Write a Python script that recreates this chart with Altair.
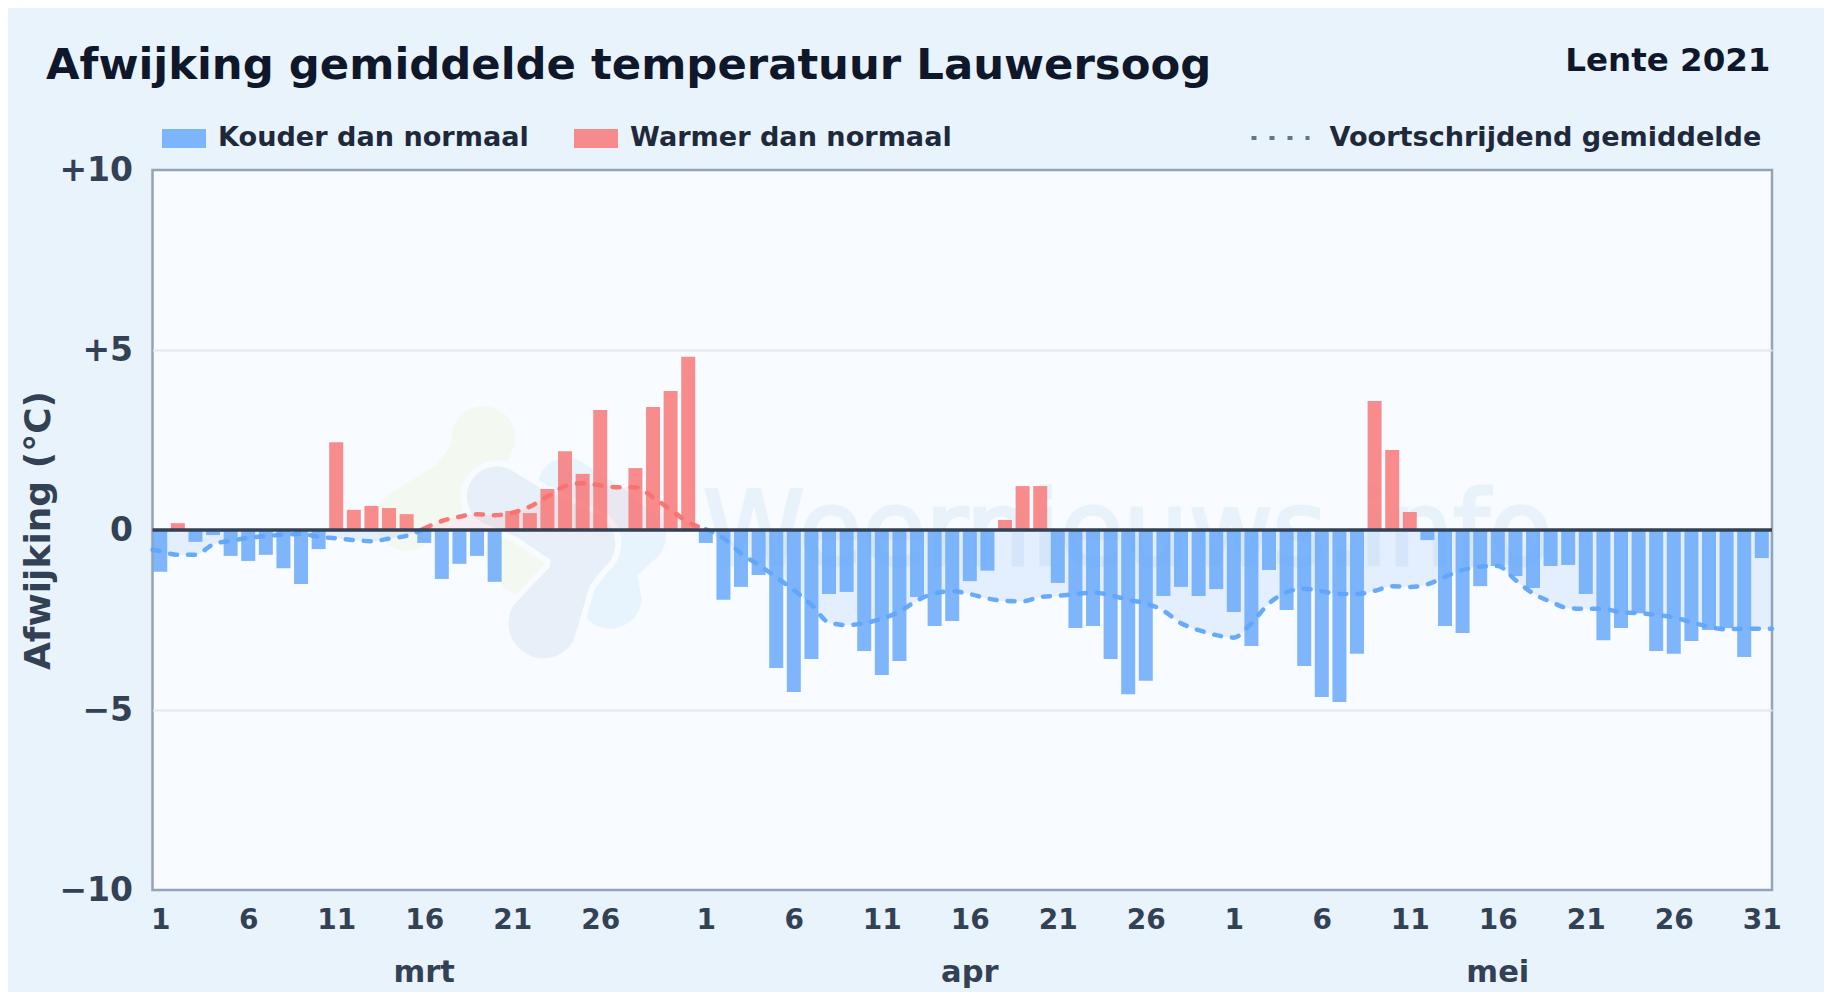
import altair as alt
import pandas as pd

afwijking = [-1.16, 0.19, -0.33, -0.14, -0.72, -0.86, -0.69, -1.06, -1.5, -0.53,
             2.44, 0.56, 0.67, 0.61, 0.44, -0.36, -1.36, -0.94, -0.72, -1.44,
             0.53, 0.47, 1.14, 2.19, 1.56, 3.33, 0.0, 1.72, 3.42, 3.86, 4.81,
             -0.36, -1.94, -1.58, -1.25, -3.83, -4.5, -3.58, -1.78, -1.72, -3.36,
             -4.03, -3.64, -1.86, -2.67, -2.53, -1.42, -1.13, 0.28, 1.22, 1.22,
             -1.47, -2.72, -2.67, -3.58, -4.56, -4.19, -1.83, -1.58, -1.83, -1.64,
             -2.28, -3.22, -1.11, -2.22, -3.78, -4.64, -4.78, -3.44, 3.58, 2.22,
             0.5, -0.28, -2.67, -2.86, -1.56, -1.0, -1.28, -1.61, -1.0, -0.97,
             -1.78, -3.06, -2.72, -2.31, -3.36, -3.44, -3.08, -2.78, -2.72, -3.53, -0.78]
gemiddelde = [-0.59, -0.69, -0.69, -0.40, -0.30, -0.22, -0.17, -0.13, -0.11, -0.19,
              -0.23, -0.28, -0.31, -0.24, -0.16, 0.04, 0.25, 0.37, 0.44, 0.41,
              0.48, 0.65, 0.93, 1.22, 1.30, 1.24, 1.19, 1.19, 0.91, 0.56, 0.22,
              0.02, -0.23, -0.65, -0.97, -1.31, -1.67, -2.08, -2.57, -2.64, -2.59,
              -2.46, -2.27, -1.96, -1.76, -1.70, -1.78, -1.90, -1.97, -1.98, -1.86,
              -1.83, -1.78, -1.74, -1.81, -1.94, -2.04, -2.24, -2.59, -2.78, -2.92,
              -2.99, -2.59, -2.04, -1.73, -1.63, -1.70, -1.78, -1.78, -1.69, -1.56,
              -1.58, -1.51, -1.30, -1.11, -1.02, -1.0, -1.39, -1.76, -1.99, -2.17,
              -2.19, -2.19, -2.29, -2.31, -2.36, -2.43, -2.56, -2.69, -2.76, -2.74, -2.74]
dagen = list(range(len(afwijking)))
x_min, x_max = -0.44, 91.58
gem_begin, gem_eind = -0.55, -2.74
warm_vanaf, warm_tot = 15, 31

tick_pos = [0, 5, 10, 15, 20, 25, 31, 36, 41, 46, 51, 56, 61, 66, 71, 76, 81, 86, 91]
tick_lab = ['1', '6', '11', '16', '21', '26', '1', '6', '11', '16', '21', '26',
            '1', '6', '11', '16', '21', '26', '31']
maand_naam = ['mrt', 'apr', 'mei']
maand_pos = [15, 46, 76]

KOUD = 'Kouder dan normaal'
WARM = 'Warmer dan normaal'
LOPEND = 'Voortschrijdend gemiddelde'

# watermerk (vlekken in grafiekcoordinaten)
vlek_groen_a = dict(idx=[18.36, 18.08, 16.65, 14.76, 14.0], val=[2.55, 2.04, 1.30, 0.55, 0.28], w=[64, 58, 50, 60, 62])
vlek_groen_b = dict(idx=[19.9, 20.7], val=[-0.65, -1.0], w=[50, 60])
vlek_grijs = dict(idx=[19.12, 21.01, 24.04, 23.28, 21.77], val=[0.93, 0.46, -0.37, -1.30, -2.59], w=[60, 54, 64, 44, 70])
vlek_licht = dict(idx=[23.09, 25.18, 27.07, 25.75, 25.56], val=[1.20, 0.46, -0.19, -1.02, -1.85], w=[58, 64, 58, 46, 64])

W, H = 1619.5, 720
x_scale = alt.Scale(domain=[x_min, x_max], nice=False, zero=False, padding=0)
y_scale = alt.Scale(domain=[-10, 10], nice=False)
X = alt.X('idx:Q', scale=x_scale, axis=alt.Axis(
    values=tick_pos, domain=False, ticks=False, grid=False, title=None, labelFontSize=28,
    labelFontWeight='bold', labelColor='#334155', labelPadding=16, labelOverlap=False,
    labelFlush=False, labelAngle=0,
    labelExpr="%s[indexof(%s, datum.value)]" % (tick_lab, tick_pos)))
Y = alt.Y('val:Q', scale=y_scale, stack=None, axis=alt.Axis(
    values=[-10, -5, 0, 5, 10], domain=False, ticks=False, grid=True, gridColor='#e2e8f0',
    gridOpacity={'condition': {'test': 'abs(datum.value) == 10', 'value': 0}, 'value': 1},
    gridWidth=2, labelFontSize=33, labelFontWeight='bold', labelColor='#334155', labelPadding=20,
    labelExpr="datum.value == 0 ? '0' : format(datum.value, '+d')",
    title='Afwijking (°C)', titleFontSize=36, titleFontWeight='bold', titleColor='#334155',
    titleX=-114, titleY=360, titleAngle=-90, titleBaseline='middle', titleAlign='center'))

df = pd.DataFrame({'idx': dagen, 'val': afwijking})
df['soort'] = [WARM if v > 0 else KOUD for v in afwijking]
lijn = pd.DataFrame({'idx': [x_min] + dagen + [x_max], 'val': [gem_begin] + gemiddelde + [gem_eind]})
lijn['nul'] = 0.0
blauw = lijn.copy()
blauw.loc[(blauw.idx > warm_vanaf) & (blauw.idx < warm_tot), 'val'] = None
rood = lijn[(lijn.idx >= warm_vanaf) & (lijn.idx <= warm_tot)]


def vlek(v, kleur, extra=0):
    d = pd.DataFrame(v)
    d['o'] = range(len(d))
    d['w'] = d['w'] + extra
    return alt.Chart(d).mark_trail(color=kleur, opacity=1).encode(
        x=X, y=Y, order='o:Q', size=alt.Size('w:Q', scale=None, legend=None))


PLOT_BG = '#f8fbff'
vlekken = [
    vlek(vlek_groen_a, '#f3f9f1'), vlek(vlek_groen_b, '#f3f9f1'),
    vlek(vlek_licht, '#e8f4fd'),
    vlek(vlek_grijs, PLOT_BG, 12), vlek(vlek_grijs, '#e7f0f8'),
]

watermerk = alt.Chart(pd.DataFrame({'t': ['Weernieuws.info']})).mark_text(
    align='left', baseline='alphabetic', fontSize=103, color='#e8f2fb',
    stroke='#e8f2fb', strokeWidth=3, font='DejaVu Sans'
).encode(x=alt.value(550.5), y=alt.value(395), text='t:N')

vlak_blauw = alt.Chart(blauw).mark_area(color='#60a5fa', opacity=0.14, interpolate='monotone').encode(
    x=X, y=Y, y2=alt.Y2('nul:Q'))
vlak_rood = alt.Chart(rood).mark_area(color='#f87171', opacity=0.10, interpolate='monotone').encode(
    x=X, y=Y, y2=alt.Y2('nul:Q'))

balken = alt.Chart(df).mark_bar(size=14, opacity=0.8, orient='vertical').encode(
    x=X, y=Y,
    color=alt.Color('soort:N', scale=alt.Scale(domain=[KOUD, WARM], range=['#60a5fa', '#f87171']),
                    legend=alt.Legend(orient='none', legendX=9.5, legendY=-54, direction='horizontal',
                                      title=None, symbolType='M-1,-0.43H1V0.43H-1Z', symbolSize=1936,
                                      symbolOpacity=0.8, symbolStrokeWidth=0, labelFontSize=27.1,
                                      labelFontWeight='bold', labelColor='#1e293b', labelOffset=12,
                                      labelLimit=600, columnPadding=45, symbolOffset=0)))

lijn_blauw = alt.Chart(blauw).mark_line(color='#60a5fa', strokeWidth=4.5, strokeDash=[7, 11], strokeCap='round',
                                        interpolate='monotone', opacity=0.95).encode(x=X, y=Y)
lijn_rood = alt.Chart(rood).mark_line(color='#f87171', strokeWidth=4.5, strokeDash=[7, 11], strokeCap='round',
                                      interpolate='monotone', opacity=0.95).encode(x=X, y=Y)

nul = alt.Chart(pd.DataFrame({'val': [0]})).mark_rule(color='#334155', strokeWidth=3.7).encode(y=Y)

maanden = alt.Chart(pd.DataFrame({'idx': maand_pos, 't': maand_naam})).mark_text(
    fontSize=30.5, fontWeight='bold', color='#334155', baseline='middle'
).encode(x=X, y=alt.value(803), text='t:N')

titel = alt.Chart(pd.DataFrame({'t': ['Afwijking gemiddelde temperatuur Lauwersoog']})).mark_text(
    align='left', baseline='alphabetic', fontSize=43.35, fontWeight='bold', color='#0f172a'
).encode(x=alt.value(-106.5), y=alt.value(-91), text='t:N')

rechts = alt.Chart(pd.DataFrame({'t': ['Lente 2021']})).mark_text(
    align='right', baseline='alphabetic', fontSize=32.5, fontWeight='bold', color='#0f172a'
).encode(x=alt.value(1618), y=alt.value(-99), text='t:N')

lijn_legenda = alt.Chart(pd.DataFrame({'idx': [0], 'val': [0.0], 's': [LOPEND]})).mark_line(
    color='#64748b', strokeWidth=4).encode(
    x=X, y=Y,
    strokeDash=alt.StrokeDash('s:N', scale=alt.Scale(domain=[LOPEND], range=[[5, 13]]),
                              legend=alt.Legend(orient='none', legendX=1097, legendY=-63, title=None,
                                                symbolType='stroke', symbolSize=3364, symbolStrokeWidth=4,
                                                symbolStrokeColor='#64748b', labelFontSize=27.1,
                                                labelFontWeight='bold', labelColor='#1e293b', labelOffset=18,
                                                labelLimit=600)))

chart = alt.layer(
    *vlekken, watermerk, vlak_blauw, vlak_rood, balken, lijn_blauw, lijn_rood, nul, maanden, titel, rechts, lijn_legenda
).properties(
    width=W, height=H,
    padding={'left': 144.5, 'top': 162, 'right': 52, 'bottom': 102},
    autosize=alt.AutoSizeParams(type='none'),
    background='#e9f3fc',
).configure(font='DejaVu Sans').configure_view(fill=PLOT_BG, stroke='#94a3b8', strokeWidth=2.5)

chart.save('out.html', embed_options={'renderer': 'svg', 'actions': False})
